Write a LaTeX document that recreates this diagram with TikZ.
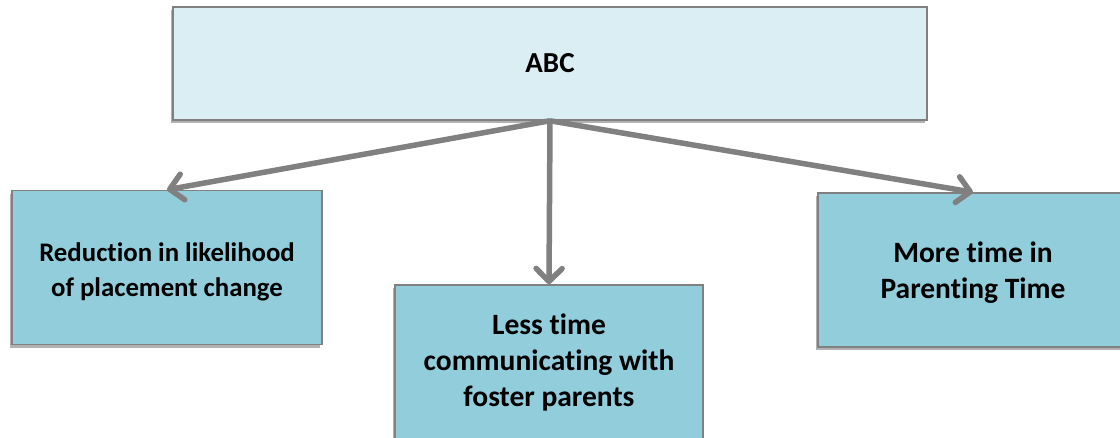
\documentclass[tikz,border=0pt]{standalone}
\usepackage{fontspec}
\setmainfont{Carlito}[Ligatures=CommonOff]
\usetikzlibrary{arrows.meta,shadows}
\definecolor{topfill}{RGB}{219,238,243}
\definecolor{boxfill}{RGB}{146,205,220}
\definecolor{edgegray}{RGB}{128,128,128}
\newcommand{\lowertext}[2]{\raisebox{-#1}[\height][\depth]{\begin{tabular}{@{}c@{}}#2\end{tabular}}}
\begin{document}
\begin{tikzpicture}[x=1pt,y=-1pt,
  basebox/.style={draw=edgegray, line width=1.5pt, align=center, text=black,
    inner sep=0pt, font=\bfseries\fontsize{26.8}{35}\selectfont,
    drop shadow={shadow xshift=-2.5pt, shadow yshift=-3pt, fill=black, opacity=0.3}},
  topbox/.style={basebox, fill=topfill, minimum width=754pt, minimum height=113pt,
    font=\bfseries\fontsize{29}{35}\selectfont},
  childbox/.style={basebox, fill=boxfill, minimum width=310pt, minimum height=154pt},
  bigtext/.style={font=\bfseries\fontsize{29.5}{36}\selectfont},
  conn/.style={draw=edgegray, line width=5.5pt,
    -{Straight Barb[length=13pt,width=26pt,line cap=round,line join=round]}}]
\useasboundingbox (0,0) rectangle (1120,437);
\clip (0,0) rectangle (1120,437);
\node[topbox] (abc) at (550,63.5) {ABC};
\node[childbox] (left) at (167,267.5) {\lowertext{4.5pt}{Reduction in likelihood\\of placement change}};
\node[childbox, bigtext, minimum width=308pt] (mid) at (549,362) {\lowertext{1.5pt}{Less time\\communicating with\\foster parents}};
\node[childbox, bigtext] (right) at (973,270) {\lowertext{3pt}{More time in\\Parenting Time}};
\draw[conn] (abc.south) -- (left.north);
\draw[conn] (abc.south) -- (mid.north);
\draw[conn] (abc.south) -- (right.north);
\end{tikzpicture}
\end{document}
